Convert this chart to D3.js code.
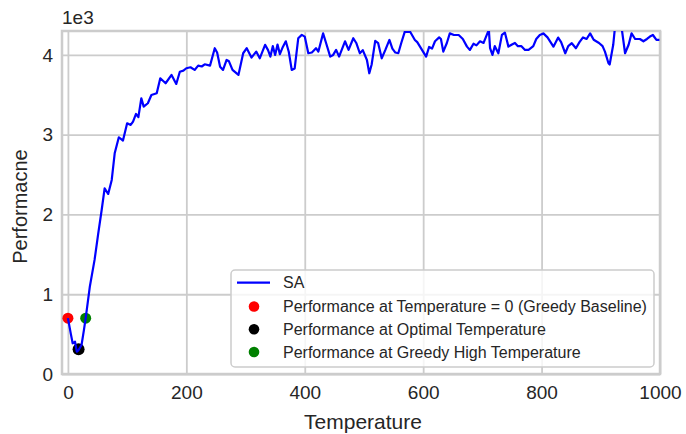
<!DOCTYPE html>
<html>
<head>
<meta charset="utf-8">
<script src="https://cdn.jsdelivr.net/npm/d3@7"></script>
<style>
  body { margin: 0; background: #fff; }
  svg { display: block; }
  text { font-family: "Liberation Sans", Arial, sans-serif; fill: #262626; }
</style>
</head>
<body>
<svg id="chart" width="686" height="434"></svg>
<script>
// ---- data ----
const temperatures = [0,5,8,12,15,18,23,27,30,37,45,51,57,62,68,74,79,86,93,100,106,110,115,119,124,128,135,141,150,156,165,175,183,189,195,200,207,214,220,226,231,240,248,252,257,262,268,272,278,288,296,302,310,318,324,333,338,342,346,350,354,358,363,368,373,378,383,389,395,400,406,412,419,423,431,436,443,448,453,458,468,474,482,487,493,498,505,509,513,519,524,530,536,543,548,553,558,563,569,578,586,590,598,605,610,615,620,627,630,634,640,645,652,660,667,674,679,685,690,696,702,709,711,713,717,721,727,733,738,744,750,755,760,766,772,778,786,791,797,803,810,820,828,833,840,845,851,858,864,870,876,882,888,897,903,907,913,915,921,924,935,941,947,952,958,966,972,978,983,988,994,999];
const performance = [700,500,385,405,280,300,364,550,700,1095,1430,1750,2056,2328,2257,2433,2767,2968,2926,3143,3122,3164,3260,3220,3457,3352,3394,3498,3519,3707,3645,3749,3636,3790,3803,3833,3845,3812,3866,3855,3883,3866,4084,4030,3853,3812,3937,3920,3812,3749,4021,4084,3967,4042,3958,4127,4060,3979,4110,4000,4130,4010,4100,4171,4040,3812,3830,4209,4251,4230,4021,4030,4084,4042,4270,4150,3979,4000,4063,3979,4171,4063,4209,4150,4021,4060,3937,3770,3880,4176,4147,3958,4060,4188,4080,4030,4021,4150,4292,4290,4188,4160,4063,3979,4100,4080,4171,4220,4200,4042,4150,4270,4250,4250,4200,4104,4063,4140,4120,4171,4150,4280,4310,4084,4000,4110,4021,4251,4280,4104,4130,4150,4110,4110,4063,4063,4110,4200,4251,4270,4220,4104,4218,4160,4021,4110,4147,4084,4160,4220,4200,4270,4190,4150,4110,4042,3895,3880,4127,4350,4350,4021,4127,4270,4200,4200,4171,4200,4230,4250,4188,4188];

const markerLabels = ["Performance at Temperature = 0 (Greedy Baseline)",
                      "Performance at Optimal Temperature",
                      "Performance at Greedy High Temperature"];
const markerTemps = [0, 18, 30];
const markerPerf = [700, 310, 700];
const markerColors = ["#ff0000", "#000000", "#008000"];

const xTicks = [0, 200, 400, 600, 800, 1000];
const yTicks = [0, 1000, 2000, 3000, 4000];
const yTickLabels = ["0", "1", "2", "3", "4"];
const lineLabel = "SA";

// ---- layout ----
const svg = d3.select("#chart");
const mLeft = 62, mRight = 660, mTop = 31, mBottom = 374;
const x = d3.scaleLinear().domain([-10, 1000]).range([mLeft, mRight]);
const y = d3.scaleLinear().domain([0, 4300]).range([mBottom, mTop]);
const gridColor = "#cccccc";

// grid
const xAxis = d3.axisBottom(x).tickValues(xTicks).tickSize(-(mBottom - mTop)).tickPadding(12).tickFormat(d3.format("d"));
const yAxis = d3.axisLeft(y).tickValues(yTicks).tickSize(-(mRight - mLeft)).tickPadding(9)
  .tickFormat((d, i) => yTickLabels[i]);

const gx = svg.append("g").attr("transform", `translate(0,${mBottom})`).call(xAxis);
const gy = svg.append("g").attr("transform", `translate(${mLeft},0)`).call(yAxis);
[gx, gy].forEach(g => {
  g.select(".domain").remove();
  g.selectAll(".tick line").attr("stroke", gridColor).attr("stroke-width", 1.8);
  g.selectAll(".tick text").attr("font-size", 19).attr("fill", "#262626")
    .style("font-family", '"Liberation Sans", Arial, sans-serif');
});

// spines
svg.append("rect").attr("x", mLeft).attr("y", mTop).attr("width", mRight - mLeft).attr("height", mBottom - mTop)
  .attr("fill", "none").attr("stroke", gridColor).attr("stroke-width", 2.5);

// clip
svg.append("clipPath").attr("id", "clip").append("rect")
  .attr("x", mLeft).attr("y", mTop).attr("width", mRight - mLeft).attr("height", mBottom - mTop);

// markers (under line)
svg.append("g").attr("clip-path", "url(#clip)").selectAll("circle").data(markerTemps).join("circle")
  .attr("cx", d => x(d)).attr("cy", (d, i) => y(markerPerf[i])).attr("r", (d, i) => i === 1 ? 6 : 5.5)
  .attr("fill", (d, i) => markerColors[i]);

// line
const pts = temperatures.map((t, i) => [t, performance[i]]);
svg.append("path").datum(pts).attr("clip-path", "url(#clip)")
  .attr("fill", "none").attr("stroke", "#0000ff").attr("stroke-width", 2.2).attr("stroke-linejoin", "round")
  .attr("d", d3.line().x(d => x(d[0])).y(d => y(d[1])));

// axis labels
svg.append("text").attr("x", (mLeft + mRight) / 2 + 2).attr("y", 429).attr("text-anchor", "middle")
  .attr("font-size", 21).text("Temperature");
svg.append("text").attr("transform", `translate(27,${(mTop + mBottom) / 2 + 4}) rotate(-90)`)
  .attr("text-anchor", "middle").attr("font-size", 20).text("Performacne");
svg.append("text").attr("x", 62).attr("y", 24).attr("font-size", 19).text("1e3");

// legend
const lg = svg.append("g");
lg.append("rect").attr("x", 231).attr("y", 270).attr("width", 423).attr("height", 97).attr("rx", 4)
  .attr("fill", "#ffffff").attr("fill-opacity", 0.8).attr("stroke", gridColor).attr("stroke-width", 1.5);
const rowY = [282.7, 306.5, 329.3, 352];
lg.append("line").attr("x1", 237).attr("x2", 270).attr("y1", rowY[0]).attr("y2", rowY[0])
  .attr("stroke", "#0000ff").attr("stroke-width", 2.2);
lg.append("text").attr("x", 283).attr("y", rowY[0]).attr("dy", "0.36em").attr("font-size", 16).text(lineLabel);
markerLabels.forEach((lab, i) => {
  lg.append("circle").attr("cx", 254).attr("cy", rowY[i + 1]).attr("r", 5.3).attr("fill", markerColors[i]);
  lg.append("text").attr("x", 283).attr("y", rowY[i + 1]).attr("dy", "0.36em").attr("font-size", 16).text(lab);
});
</script>
</body>
</html>
